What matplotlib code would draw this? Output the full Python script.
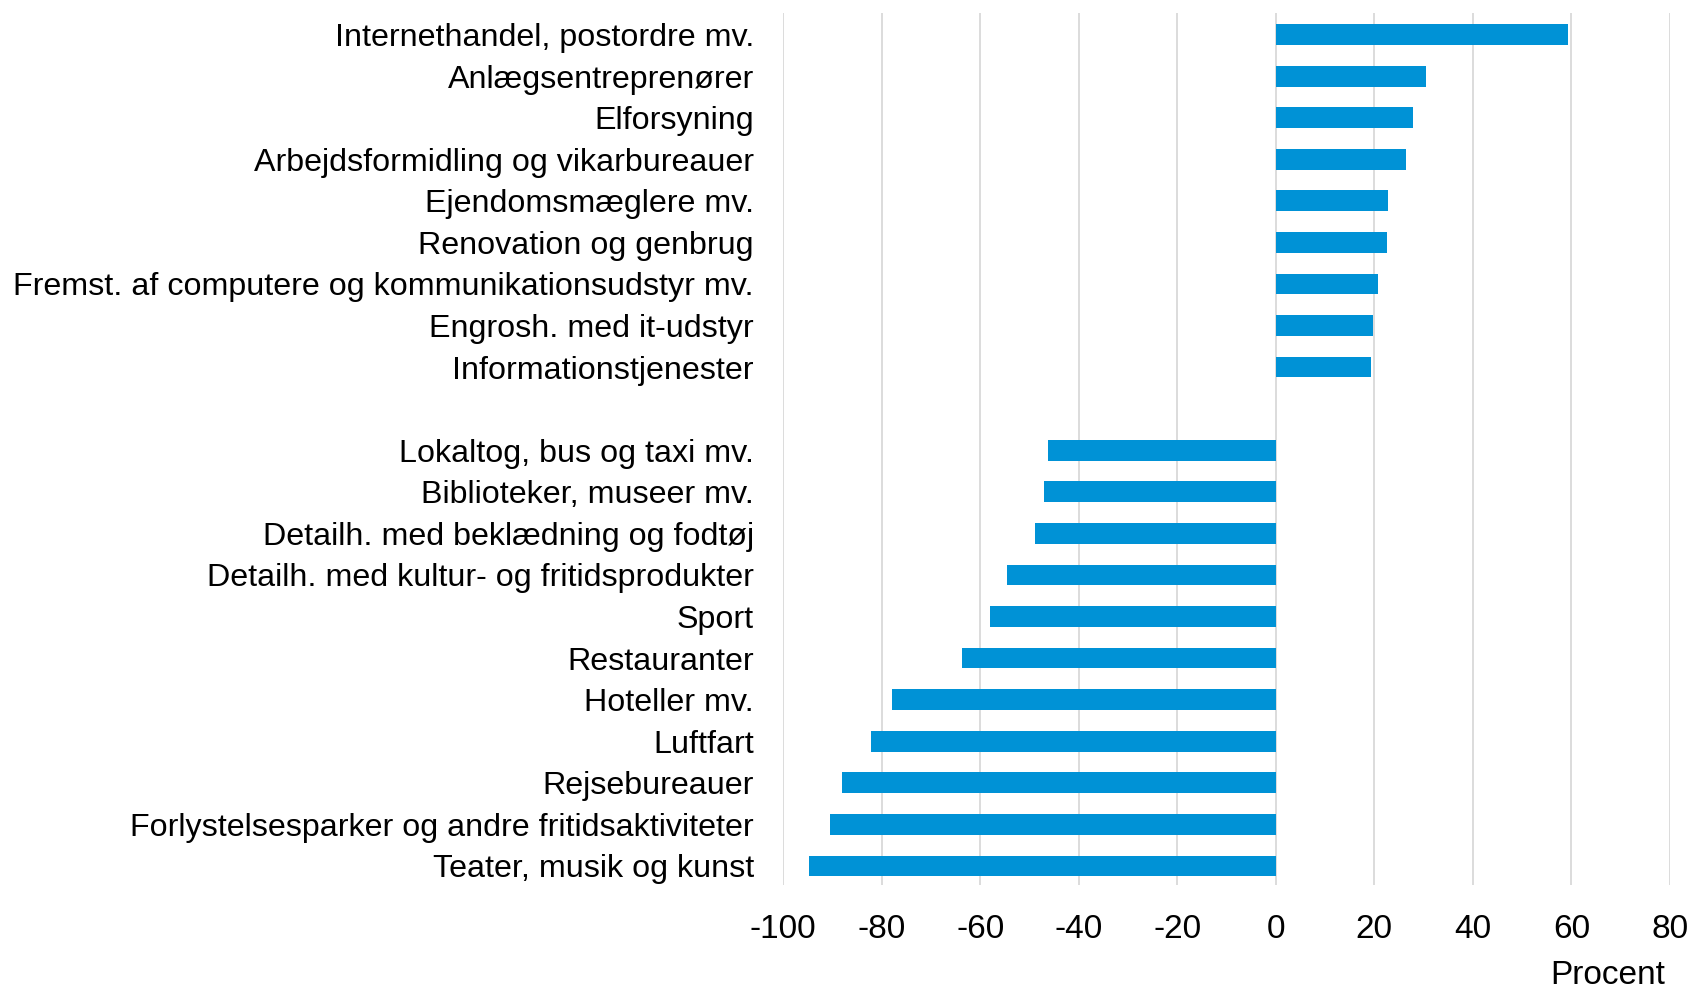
import matplotlib
matplotlib.use("Agg")
import matplotlib.pyplot as plt

plt.rcParams["font.family"] = ["Liberation Sans", "DejaVu Sans"]

# Brancher med størst stigning (øverst) og størst fald (nederst)
up_labels = [
    "Internethandel, postordre mv.",
    "Anlægsentreprenører",
    "Elforsyning",
    "Arbejdsformidling og vikarbureauer",
    "Ejendomsmæglere mv.",
    "Renovation og genbrug",
    "Fremst. af computere og kommunikationsudstyr mv.",
    "Engrosh. med it-udstyr",
    "Informationstjenester",
]
up_values = [59.4, 30.5, 27.9, 26.4, 22.7, 22.6, 20.8, 19.7, 19.3]

down_labels = [
    "Lokaltog, bus og taxi mv.",
    "Biblioteker, museer mv.",
    "Detailh. med beklædning og fodtøj",
    "Detailh. med kultur- og fritidsprodukter",
    "Sport",
    "Restauranter",
    "Hoteller mv.",
    "Luftfart",
    "Rejsebureauer",
    "Forlystelsesparker og andre fritidsaktiviteter",
    "Teater, musik og kunst",
]
down_values = [-46.3, -47.0, -48.9, -54.5, -58.0, -63.6, -77.8, -82.1, -88.1, -90.5, -94.8]

x_ticks = [-100, -80, -60, -40, -20, 0, 20, 40, 60, 80]

# one empty slot between the two groups
labels = up_labels + [""] + down_labels
values = up_values + [0] + down_values
pos = list(range(len(labels)))
pos_bars = [p for p, l in zip(pos, labels) if l]
val_bars = [v for v, l in zip(values, labels) if l]

fig = plt.figure(figsize=(16.92, 9.94), dpi=100)
ax = fig.add_axes([0.4628, 0.11, 0.5242, 0.877])

ax.barh(pos_bars, val_bars, height=0.5, color="#0092D6", zorder=3)

ax.set_yticks(pos)
ax.set_yticklabels(labels, fontsize=23.2)
ax.set_ylim(20.45, -0.52)
ax.set_xlim(-100, 80)
ax.set_xticks(x_ticks)
ax.set_xticklabels([str(t) for t in x_ticks], fontsize=24)
ax.tick_params(axis="both", length=0, colors="black")
ax.tick_params(axis="y", pad=21)
ax.tick_params(axis="x", pad=21)
ax.grid(axis="x", color="#D9D9D9", linewidth=1.3, zorder=0)
for s in ax.spines.values():
    s.set_visible(False)

fig.text(0.984, 0.003, "Procent", ha="right", va="bottom", fontsize=24)

fig.savefig("out.png", dpi=100)
